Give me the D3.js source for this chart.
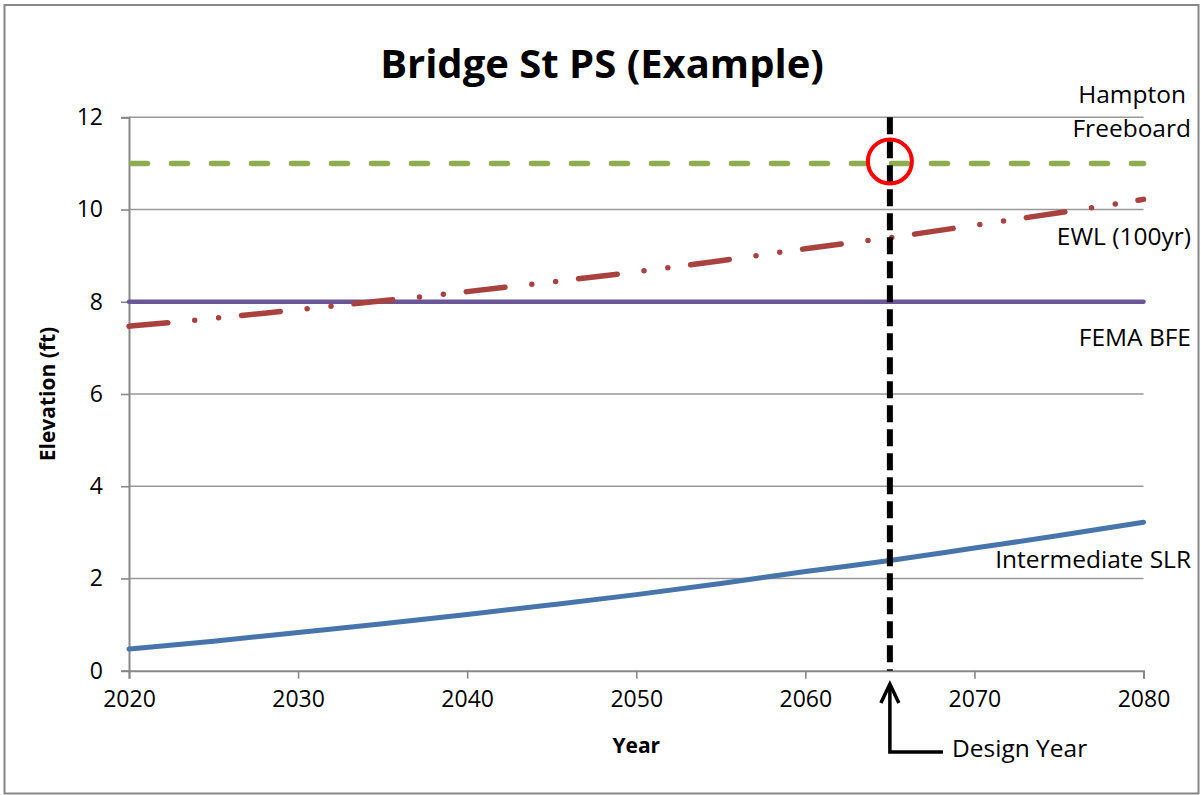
<!DOCTYPE html>
<html>
<head>
<meta charset="utf-8">
<script src="https://cdn.jsdelivr.net/npm/d3@7"></script>
<style>
  body { margin: 0; background: #fff; }
  text { font-family: "Open Sans", sans-serif; fill: #000; }
</style>
</head>
<body>
<div id="chart"></div>
<script>
// data
const years = [2020, 2025, 2030, 2035, 2040, 2045, 2050, 2055, 2060, 2065, 2070, 2075, 2080];
const slrValues = [0.47, 0.64, 0.83, 1.02, 1.22, 1.43, 1.65, 1.89, 2.15, 2.39, 2.66, 2.93, 3.22];
const ewlValues = [7.47, 7.64, 7.83, 8.02, 8.22, 8.43, 8.65, 8.89, 9.15, 9.39, 9.66, 9.93, 10.22];
const femaBfe = 8;
const hamptonFreeboard = 11;
const designYear = 2065;
const yTicks = [0, 2, 4, 6, 8, 10, 12];
const xTicks = [2020, 2030, 2040, 2050, 2060, 2070, 2080];

const width = 1201, height = 795;
const plotLeft = 129, plotRight = 1143.5, plotTop = 117.3, plotBottom = 670.7;

const svg = d3.select('#chart')
  .append('svg')
  .attr('width', width)
  .attr('height', height);

// outer chart border
svg.append('rect')
  .attr('x', 4.5).attr('y', 5)
  .attr('width', 1194).attr('height', 788.5)
  .attr('fill', 'none')
  .attr('stroke', '#878787')
  .attr('stroke-width', 2);

const x = d3.scaleLinear().domain([2020, 2080]).range([plotLeft, plotRight]);
const y = d3.scaleLinear().domain([0, 12]).range([plotBottom, plotTop]);

// gridlines
svg.append('g')
  .selectAll('line')
  .data(yTicks.filter(d => d > 0))
  .join('line')
  .attr('x1', plotLeft).attr('x2', plotRight)
  .attr('y1', d => y(d)).attr('y2', d => y(d))
  .attr('stroke', '#999')
  .attr('stroke-width', 1.6);

// y axis
const yAxis = svg.append('g')
  .attr('transform', `translate(${plotLeft},0)`)
  .call(d3.axisLeft(y).tickValues(yTicks).tickSize(8).tickPadding(18));
yAxis.select('.domain').attr('stroke', '#888').attr('stroke-width', 2);
yAxis.selectAll('.tick line').attr('stroke', '#888').attr('stroke-width', 1.6);
yAxis.selectAll('.tick text')
  .style('font-family', '"Open Sans", sans-serif')
  .style('font-size', '23px')
  .attr('fill', '#000');

// x axis
const xAxis = svg.append('g')
  .attr('transform', `translate(0,${plotBottom})`)
  .call(d3.axisBottom(x).tickValues(xTicks).tickFormat(d3.format('d')).tickSize(8).tickPadding(12));
xAxis.select('.domain').attr('stroke', '#888').attr('stroke-width', 2);
xAxis.selectAll('.tick line').attr('stroke', '#888').attr('stroke-width', 1.6);
xAxis.selectAll('.tick text')
  .style('font-family', '"Open Sans", sans-serif')
  .style('font-size', '23px')
  .attr('fill', '#000');

const line = d3.line()
  .x((d, i) => x(years[i]))
  .y(d => y(d))
  .curve(d3.curveMonotoneX);

// Intermediate SLR
svg.append('path')
  .datum(slrValues)
  .attr('d', line)
  .attr('fill', 'none')
  .attr('stroke', '#4674ab')
  .attr('stroke-width', 5)
  .attr('stroke-linecap', 'round');

// FEMA BFE
svg.append('line')
  .attr('x1', x(2020)).attr('x2', x(2080))
  .attr('y1', y(femaBfe)).attr('y2', y(femaBfe))
  .attr('stroke', '#6b5797')
  .attr('stroke-width', 4.5)
  .attr('stroke-linecap', 'round');

// EWL (100yr)
svg.append('path')
  .datum(ewlValues)
  .attr('d', line)
  .attr('fill', 'none')
  .attr('stroke', '#a8423f')
  .attr('stroke-width', 5.5)
  .attr('stroke-linecap', 'round')
  .attr('stroke-dasharray', '39,27,0,24,0,23');

// Hampton Freeboard
svg.append('line')
  .attr('x1', x(2020) + 2.5).attr('x2', x(2080))
  .attr('y1', y(hamptonFreeboard)).attr('y2', y(hamptonFreeboard))
  .attr('stroke', '#8eac50')
  .attr('stroke-width', 5.5)
  .attr('stroke-linecap', 'round')
  .attr('stroke-dasharray', '16,24');

// design year marker
svg.append('line')
  .attr('x1', x(designYear)).attr('x2', x(designYear))
  .attr('y1', y(12)).attr('y2', y(0))
  .attr('stroke', '#000')
  .attr('stroke-width', 6)
  .attr('stroke-dasharray', '17,7');

svg.append('circle')
  .attr('cx', x(designYear))
  .attr('cy', y(hamptonFreeboard) - 2)
  .attr('r', 22)
  .attr('fill', 'none')
  .attr('stroke', '#ff0000')
  .attr('stroke-width', 4);

// arrow to the design year
const ax = x(designYear);
svg.append('path')
  .attr('d', `M${ax},684 L${ax},752 L943,752`)
  .attr('fill', 'none')
  .attr('stroke', '#000')
  .attr('stroke-width', 3.5);
svg.append('path')
  .attr('d', `M${ax - 9},703 L${ax},684 L${ax + 9},703`)
  .attr('fill', 'none')
  .attr('stroke', '#000')
  .attr('stroke-width', 3.5)
  .attr('stroke-linejoin', 'miter');

svg.append('text')
  .attr('x', 952).attr('y', 757)
  .attr('font-size', '24.5px')
  .text('Design Year');

// series labels on the right
const labels = [
  { t: 'Hampton', yy: 103, xx: 1186 },
  { t: 'Freeboard', yy: 137, xx: 1191 },
  { t: 'EWL (100yr)', yy: 245, xx: 1191 },
  { t: 'FEMA BFE', yy: 346, xx: 1191 },
  { t: 'Intermediate SLR', yy: 568, xx: 1191 }
];
svg.append('g')
  .selectAll('text')
  .data(labels)
  .join('text')
  .attr('x', d => d.xx)
  .attr('y', d => d.yy)
  .attr('text-anchor', 'end')
  .attr('font-size', '24.5px')
  .text(d => d.t);

// titles
svg.append('text')
  .attr('x', 602).attr('y', 78)
  .attr('text-anchor', 'middle')
  .attr('font-size', '40px')
  .attr('font-weight', 'bold')
  .text('Bridge St PS (Example)');

svg.append('text')
  .attr('x', (plotLeft + plotRight) / 2).attr('y', 753)
  .attr('text-anchor', 'middle')
  .attr('font-size', '21px')
  .attr('font-weight', 'bold')
  .text('Year');

svg.append('text')
  .attr('transform', `translate(55,${(plotTop + plotBottom) / 2}) rotate(-90)`)
  .attr('text-anchor', 'middle')
  .attr('font-size', '21px')
  .attr('font-weight', 'bold')
  .text('Elevation (ft)');
</script>
</body>
</html>
